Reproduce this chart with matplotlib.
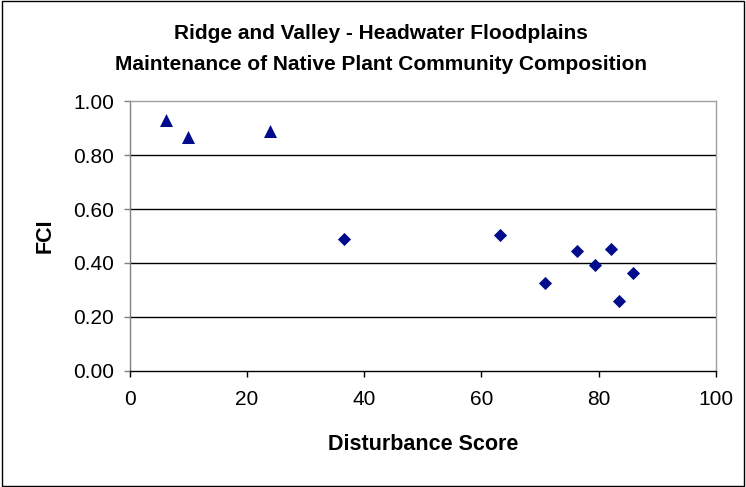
import matplotlib.pyplot as plt
from matplotlib.patches import Rectangle

plt.rcParams['font.family'] = ['Liberation Sans', 'DejaVu Sans']

# triangles (low disturbance sites)
tri_x = [6.3, 10.0, 23.9]
tri_y = [0.931, 0.866, 0.888]

# diamonds
dia_x = [36.5, 63.1, 70.9, 76.3, 79.4, 82.1, 83.4, 85.8]
dia_y = [0.489, 0.504, 0.325, 0.443, 0.391, 0.452, 0.259, 0.363]

x_ticks = [0, 20, 40, 60, 80, 100]
y_ticks = [0.0, 0.2, 0.4, 0.6, 0.8, 1.0]

title1 = "Ridge and Valley - Headwater Floodplains"
title2 = "Maintenance of Native Plant Community Composition"
navy = '#000c8c'

fig = plt.figure(figsize=(7.46, 4.87), dpi=100)
ax = fig.add_axes([0.1736, 0.2382, 0.7862, 0.5544])

# gridlines
for yv in y_ticks[1:-1]:
    ax.axhline(yv, color='black', linewidth=1.0, zorder=1)

ax.scatter(tri_x, tri_y, marker='^', s=88, color=navy, linewidths=0, zorder=3)
ax.scatter(dia_x, dia_y, marker='D', s=45, color=navy, linewidths=0, zorder=3)

ax.set_xlim(0, 100)
ax.set_ylim(0, 1.0)
ax.set_xticks(x_ticks)
ax.set_xticklabels([str(v) for v in x_ticks])
ax.set_yticks(y_ticks)
ax.set_yticklabels([f"{v:.2f}" for v in y_ticks])
ax.tick_params(axis='both', direction='out', length=4, width=1, labelsize=15, colors='black')
ax.tick_params(axis='x', pad=10)
ax.tick_params(axis='y', pad=7, color='#808080')

ax.spines['top'].set_color('#a0a0a0')
ax.spines['right'].set_color('#a0a0a0')
ax.spines['left'].set_color('#808080')
ax.spines['bottom'].set_color('black')
for s in ax.spines.values():
    s.set_linewidth(1.0)

ax.set_xlabel("Disturbance Score", fontsize=15.5, fontweight='bold')
ax.xaxis.set_label_coords(0.5, -0.235)
ax.set_ylabel("FCI", fontsize=15.5, fontweight='bold')
ax.yaxis.set_label_coords(-0.126, 0.5)

fig.text(0.5107, 1 - 33 / 487, title1, ha='center', va='center', fontsize=15, fontweight='bold')
fig.text(0.5107, 1 - 64 / 487, title2, ha='center', va='center', fontsize=15, fontweight='bold')

# outer chart border
fig.patches.append(Rectangle((0.003, 0.003), 0.994, 0.994, transform=fig.transFigure,
                             fill=False, edgecolor='black', linewidth=1.0))

fig.savefig('out.png', dpi=100)
